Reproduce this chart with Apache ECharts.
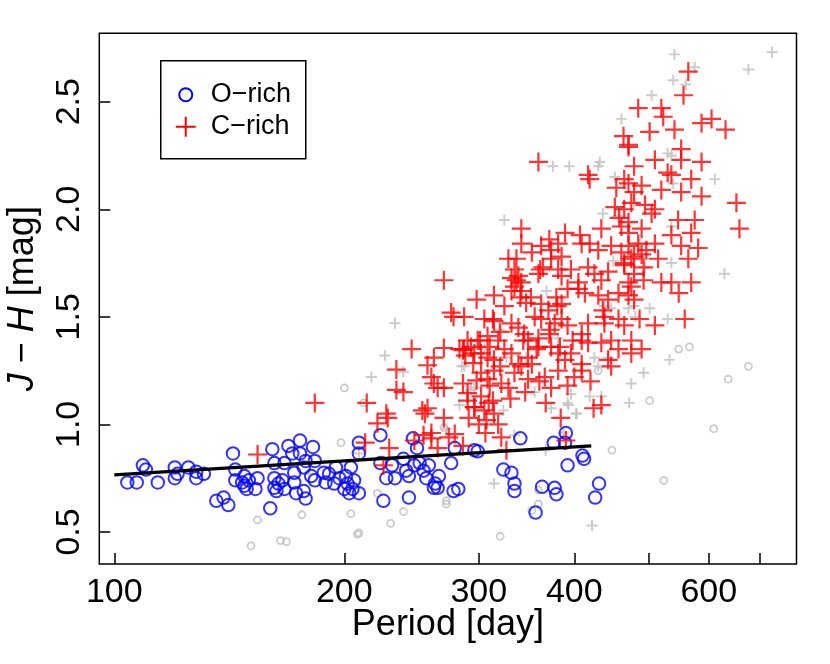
<!DOCTYPE html>
<html>
<head>
<meta charset="utf-8">
<script src="https://cdn.jsdelivr.net/npm/echarts@6/dist/echarts.min.js"></script>
<style>
  html, body { margin: 0; padding: 0; background: #fff; }
  #chart { width: 830px; height: 664px; }
</style>
</head>
<body>
<div id="chart"></div>
<script>
// [period (day), J-H (mag)]
const oRich = [
  [104,0.73],[107,0.73],[109,0.81],[110,0.79],[114,0.73],[120,0.80],[120,0.75],[121,0.77],
  [125,0.80],[128,0.78],[128,0.75],[131,0.77],[136,0.645],[139,0.66],[141,0.625],[143,0.865],
  [144,0.79],[144,0.74],[147,0.73],[148,0.76],[148,0.715],[150,0.74],[149,0.70],[153,0.70],
  [154,0.75],[161,0.885],[162,0.82],[162,0.75],[160,0.61],[162,0.705],[164,0.725],[163,0.69],
  [166,0.74],[167,0.70],[167,0.82],[169,0.90],[171,0.865],[172,0.775],[172,0.73],[173,0.68],
  [175,0.925],[175,0.865],[177,0.80],[178,0.83],[177,0.69],[178,0.655],[182,0.895],[183,0.83],
  [181,0.76],[183,0.74],[188,0.775],[189,0.73],[191,0.77],
  [195,0.80],[197,0.75],[201,0.76],[202,0.725],[203,0.68],[205,0.70],[206,0.74],[209,0.68],
  [200,0.70],[194,0.725],[204,0.80],[209,0.915],[209,0.865],[223,0.95],[223,0.82],[225,0.645],
  [227,0.75],[231,0.81],[233,0.75],[239,0.84],[241,0.785],[243,0.66],[243,0.76],[246,0.935],
  [247,0.81],[249,0.89],[251,0.82],[254,0.785],[256,0.75],[258,0.81],[262,0.705],[263,0.725],
  [266,0.76],[265,0.705],[276,0.82],[278,0.69],[282,0.70],[279,0.89],[296,0.88],[299,0.875],
  [323,0.79],[331,0.775],[334,0.725],[334,0.69],[340,0.935],[356,0.59],[363,0.71],[376,0.915],
  [377,0.705],[379,0.675],[390,0.96],[389,0.915],[392,0.81],[410,0.855],[412,0.84],[431,0.725],
  [426,0.66]
];

const cRich = [
  [154,0.86],[227,1.05],[228,1.03],[221,1.005],[213,0.915],[229,0.89],[225,0.81],[253,1.065],
  [257,1.075],[255,1.05],[270,1.03],[260,0.935],[254,0.95],[247,0.925],[274,0.94],[265,0.89],
  [286,0.90],[291,1.03],[296,1.08],[305,1.065],[307,1.02],[300,1.00],[306,0.96],[318,1.00],
  [321,0.94],[326,0.88],[309,1.10],[313,1.11],[384,1.03],[390,0.925],[424,1.075],[434,1.09],
  [270,1.67],[298,1.58],[276,1.52],[278,1.50],[245,1.35],[270,1.355],[262,1.31],[257,1.275],
  [234,1.255],[286,1.345],[288,1.32],[296,1.33],[295,1.285],[183,1.10],[214,1.10],[234,1.16],
  [239,1.15],[262,1.19],[265,1.17],[270,1.17],[260,1.22],[286,1.19],[290,1.145],[298,1.205],
  [260,0.96],[279,0.955],
  [341,1.84],[362,1.83],[373,1.81],[381,1.84],[385,1.78],[409,1.84],[419,1.84],[430,1.81],
  [447,1.83],[461,1.80],[471,1.83],[475,1.77],[485,1.84],[490,1.79],[497,1.81],[373,1.77],
  [336,1.77],[328,1.77],[334,1.72],[331,1.68],[338,1.69],[359,1.70],[364,1.73],[381,1.72],
  [385,1.69],[396,1.72],[405,1.66],[417,1.73],[425,1.70],[434,1.67],[443,1.71],[465,1.74],
  [471,1.66],[479,1.70],[493,1.73],[493,1.67],[475,1.64],[334,1.64],[341,1.66],
  [314,1.60],[324,1.55],[341,1.62],[351,1.59],[362,1.56],[379,1.59],[385,1.56],[392,1.63],
  [405,1.63],[413,1.61],[430,1.60],[443,1.58],[457,1.61],[471,1.60],[479,1.58],[436,1.53],
  [438,1.50],[305,1.49],[314,1.48],[331,1.47],[338,1.45],[344,1.42],[355,1.50],[362,1.49],
  [370,1.53],[377,1.47],[385,1.49],[392,1.46],[409,1.42],[417,1.47],[438,1.47],[457,1.49],
  [465,1.46],[475,1.39],[510,1.46],[287,1.50],[290,1.39],[299,1.39],[308,1.41],[318,1.39],
  [348,1.39],[359,1.40],[371,1.42],[287,1.35],[293,1.36],[302,1.33],[308,1.31],[314,1.30],
  [324,1.35],[331,1.33],[338,1.28],[348,1.31],[359,1.36],[373,1.36],[381,1.33],[389,1.30],
  [396,1.33],[409,1.39],[417,1.38],[434,1.38],[447,1.39],[457,1.35],[475,1.33],[490,1.35],
  [443,1.30],[409,1.28],[302,1.24],[308,1.21],[314,1.25],[321,1.19],[328,1.17],[334,1.24],
  [341,1.27],[348,1.21],[366,1.22],[381,1.25],[400,1.22],[409,1.25],[447,1.27],[373,1.17],
  [290,1.11],[296,1.08],[302,1.13],[314,1.05],
  [336,1.67],[331,1.62],[340,1.59],[346,1.565],[352,1.80],[361,1.72],[372,1.44],[380,1.55],
  [310,1.36],[301,1.39],[283,1.35],[313,1.49],[320,1.43],[343,1.39],[357,1.35],[383,1.36],
  [398,1.39],[345,1.15],[360,1.20],[392,1.18],[352,1.28],[420,1.20],[367,1.10],[330,1.12],
  [310,1.18],[320,1.27],
  [359,2.22],[417,2.16],[419,2.14],[471,2.29],[454,2.10],[471,2.12],[452,2.01],[465,2.00],
  [475,2.03],[341,1.91],[371,1.86],[389,1.89],[407,1.88],[434,1.91],[461,1.92],[471,1.89],
  [458,1.96],[471,1.94],
  [564,2.64],[556,2.53],[485,2.47],[520,2.47],[523,2.43],[587,2.40],[605,2.42],[631,2.37],
  [502,2.36],[541,2.37],[464,2.34],[471,2.30],[552,2.28],[510,2.23],[552,2.23],[587,2.22],
  [479,2.20],[530,2.17],[536,2.16],[569,2.14],[465,2.14],[490,2.11],[520,2.09],[587,2.06],
  [552,2.08],[652,2.03],[658,1.91],[479,2.08],[510,2.00],[547,1.95],[575,1.95],[569,1.89],
  [536,1.88],[552,1.83],[581,1.82],[510,1.84],[490,1.91],[479,1.78],[515,1.77],[564,1.77],
  [465,1.75],[495,2.02],[505,1.98],
  [558,1.49],[569,1.66],[548,1.61],[520,1.66],[536,1.66],[487,1.49]
];

const otherC = [
  [180,0.77],[283,1.09],[323,1.065],[314,0.725],[334,0.95],[373,1.075],[393,1.09],[403,1.05],
  [387,0.96],[367,0.88],[422,0.53],[272,0.98],[209,0.865],[233,1.47],[226,1.32],[239,1.245],
  [217,1.22],[285,1.27],[293,1.16],[368,1.62],[319,1.44],[438,1.55],[447,1.54],[471,1.54],
  [479,1.55],[502,1.54],[481,1.50],[450,1.76],[495,1.73],[425,1.31],[443,1.31],[430,1.27],
  [493,1.24],[475,1.19],[396,1.14],[419,1.13],[434,1.13],[472,1.10],[402,1.05],[392,1.10],
  [355,1.15],[326,1.31],[305,1.35],[296,1.17],[287,1.27],[346,1.31],[381,1.40],
  [505,2.53],[461,2.42],[375,2.20],[394,2.20],[432,2.22],[430,2.20],[452,2.15],[324,1.95],
  [436,1.98],[457,1.97],[479,2.03],[487,1.84],[541,2.72],[726,2.73],[676,2.65],[575,2.66],
  [539,2.60],[560,2.58],[530,2.26],[536,2.25],[611,2.14],[539,2.12],[536,1.92],[536,1.75],
  [629,1.70],[530,1.49],[533,1.30]
];

const otherO = [
  [154,0.556],[151,0.435],[165,0.46],[168,0.455],[176,0.58],[198,0.915],[221,0.68],[204,0.585],
  [230,0.54],[239,0.595],[208,0.49],[209,0.495],[272,0.645],[272,0.63],[320,0.48],[352,0.60],
  [359,0.63],[359,0.695],[448,0.88],[200,1.17],[212,1.10],[270,0.985],[430,1.25],[502,1.11],
  [548,1.35],[566,1.36],[676,1.27],[636,1.21],[609,0.98],[524,0.74]
];

// linear fit for O-rich stars
const fitLine = [[100,0.765],[421,0.90]];

const xTicks = [100, 200, 300, 400, 500, 600, 700];
const xLabels = [100, 200, 300, 400, 600];
const yTicks = [0.5, 1.0, 1.5, 2.0, 2.5];

const FONT = "'Liberation Sans', Arial, Helvetica, sans-serif";
const plusPath = 'path://M0,5L10,5M5,0L5,10';
const clear = 'rgba(0,0,0,0)';

const myChart = echarts.init(document.getElementById('chart'), null, { renderer: 'canvas' });

const option = {
    animation: false,
    backgroundColor: '#fff',
    textStyle: { fontFamily: FONT },
    grid: {
        left: 99.3,
        right: 33.5,
        top: 33.3,
        bottom: 100,
        outerBoundsMode: 'none',
        show: true,
        borderColor: '#000',
        borderWidth: 1.5,
        backgroundColor: clear
    },
    xAxis: {
        type: 'log',
        logBase: 10,
        min: 95.58,
        max: 781.5,
        name: 'Period [day]',
        nameLocation: 'middle',
        nameMoveOverlap: false,
        nameGap: 43,
        nameTextStyle: { fontSize: 36, color: '#000', fontFamily: FONT },
        axisLine: { show: false },
        axisTick: {
            show: true,
            inside: true,
            length: 11,
            customValues: xTicks,
            lineStyle: { color: '#000', width: 1.5 }
        },
        minorTick: { show: false },
        axisLabel: {
            customValues: xLabels,
            fontSize: 34,
            color: '#000',
            margin: 12,
            formatter: v => String(Math.round(v))
        },
        splitLine: { show: false }
    },
    yAxis: {
        type: 'value',
        min: 0.351,
        max: 2.818,
        name: '{i|J} − {i|H} [mag]',
        nameLocation: 'middle',
        nameRotate: 90,
        nameMoveOverlap: false,
        nameGap: 58,
        nameTextStyle: {
            fontSize: 36,
            color: '#000',
            fontFamily: FONT,
            rich: {
                i: { fontSize: 36, fontStyle: 'italic', color: '#000', fontFamily: FONT }
            }
        },
        axisLine: { show: false },
        axisTick: {
            show: true,
            inside: true,
            length: 11,
            customValues: yTicks,
            lineStyle: { color: '#000', width: 1.5 }
        },
        axisLabel: {
            customValues: yTicks,
            rotate: 90,
            fontSize: 34,
            color: '#000',
            margin: 13,
            formatter: v => v.toFixed(1)
        },
        splitLine: { show: false }
    },
    series: [
        {
            name: 'other C',
            type: 'scatter',
            data: otherC,
            symbol: plusPath,
            symbolSize: 11,
            silent: true,
            itemStyle: { color: clear, borderColor: '#bebebe', borderWidth: 1.9 }
        },
        {
            name: 'other O',
            type: 'scatter',
            data: otherO,
            symbol: 'circle',
            symbolSize: 7,
            silent: true,
            itemStyle: { color: clear, borderColor: '#bebebe', borderWidth: 1.8 }
        },
        {
            name: 'O-rich',
            type: 'scatter',
            data: oRich,
            symbol: 'circle',
            symbolSize: 12.5,
            silent: true,
            itemStyle: { color: clear, borderColor: '#0000ff', borderWidth: 2 }
        },
        {
            name: 'C-rich',
            type: 'scatter',
            data: cRich,
            symbol: plusPath,
            symbolSize: 19,
            silent: true,
            itemStyle: { color: clear, borderColor: '#ff0000', borderWidth: 2.2 }
        },
        {
            name: 'fit',
            type: 'line',
            data: fitLine,
            symbol: 'none',
            silent: true,
            lineStyle: { color: '#000', width: 3.2 }
        }
    ],
    // legend box drawn like R's legend()
    graphic: [
        {
            type: 'group',
            left: 160,
            top: 60,
            z: 100,
            children: [
                { type: 'rect', shape: { x: 0, y: 0, width: 145, height: 98 },
                  style: { fill: '#fff', stroke: '#000', lineWidth: 1.5 } },
                { type: 'circle', shape: { cx: 25, cy: 34, r: 6.5 },
                  style: { fill: clear, stroke: '#0000ff', lineWidth: 2 } },
                { type: 'line', shape: { x1: 15, y1: 66, x2: 35, y2: 66 },
                  style: { stroke: '#ff0000', lineWidth: 2 } },
                { type: 'line', shape: { x1: 25, y1: 56, x2: 25, y2: 76 },
                  style: { stroke: '#ff0000', lineWidth: 2 } },
                { type: 'text', x: 50, y: 34,
                  style: { text: 'O−rich', fontSize: 27, fontFamily: FONT, fill: '#000', verticalAlign: 'middle' } },
                { type: 'text', x: 50, y: 66,
                  style: { text: 'C−rich', fontSize: 27, fontFamily: FONT, fill: '#000', verticalAlign: 'middle' } }
            ]
        }
    ]
};

myChart.setOption(option);
</script>
</body>
</html>
